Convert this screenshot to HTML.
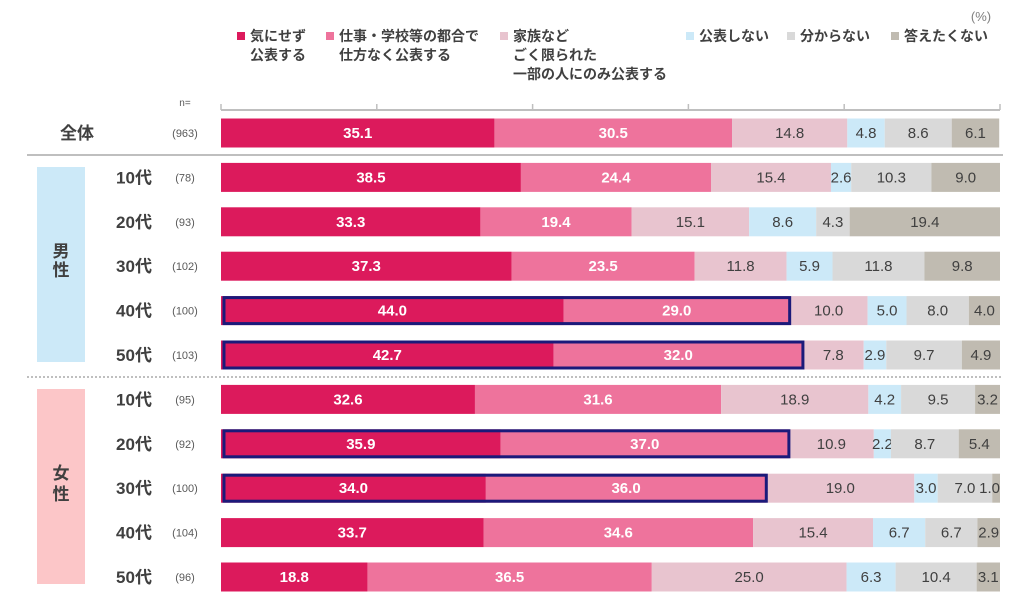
<!DOCTYPE html>
<html><head><meta charset="utf-8">
<style>
body{margin:0;background:#fff;}
svg{display:block;font-family:"Liberation Sans","Noto Sans CJK JP",sans-serif;}
</style></head>
<body>
<svg id="chart" width="1017" height="603" viewBox="0 0 1017 603">
</svg>
<script>
const categories = ["全体","10代","20代","30代","40代","50代","10代","20代","30代","40代","50代"];
const sampleSizes = ["(963)","(78)","(93)","(102)","(100)","(103)","(95)","(92)","(100)","(104)","(96)"];
const seriesNames = ["気にせず\n公表する","仕事・学校等の都合で\n仕方なく公表する","家族など\nごく限られた\n一部の人にのみ公表する","公表しない","分からない","答えたくない"];
const s1 = [35.1,38.5,33.3,37.3,44.0,42.7,32.6,35.9,34.0,33.7,18.8];
const s2 = [30.5,24.4,19.4,23.5,29.0,32.0,31.6,37.0,36.0,34.6,36.5];
const s3 = [14.8,15.4,15.1,11.8,10.0,7.8,18.9,10.9,19.0,15.4,25.0];
const s4 = [4.8,2.6,8.6,5.9,5.0,2.9,4.2,2.2,3.0,6.7,6.3];
const s5 = [8.6,10.3,4.3,11.8,8.0,9.7,9.5,8.7,7.0,6.7,10.4];
const s6 = [6.1,9.0,19.4,9.8,4.0,4.9,3.2,5.4,1.0,2.9,3.1];
const highlighted = [false,false,false,false,true,true,false,true,true,false,false];
const ticks = [0,20,40,60,80,100];

const colors = ["#dc1a5c","#ee739c","#e8c4cf","#cce9f8","#d9d9d9","#c0bbb1"];
const NS = "http://www.w3.org/2000/svg";
const svg = document.getElementById("chart");
const x0 = 221, x1 = 1000;
const xs = v => x0 + (x1 - x0) * v / 100;
const rowY = i => 133 + i * 44.4;
const barH = 29;
function el(tag, attrs, text){
  const e = document.createElementNS(NS, tag);
  for (const k in attrs) e.setAttribute(k, attrs[k]);
  if (text !== undefined) e.textContent = text;
  svg.appendChild(e);
  return e;
}
let g = el("rect",{x:37,y:167,width:48,height:195,fill:"#cce9f8"});


g = el("rect",{x:37,y:389,width:48,height:195,fill:"#fcc6c8"});


[["男",257],["性",276]].forEach(([t,y])=>{const e=el("text",{x:61,y:y,"text-anchor":"middle","font-size":17,"font-weight":"bold",fill:"#404040"},t);

});
[["女",479],["性",500]].forEach(([t,y])=>{const e=el("text",{x:61,y:y,"text-anchor":"middle","font-size":17,"font-weight":"bold",fill:"#404040"},t);

});
let sp = el("line",{x1:27,y1:155,x2:1003,y2:155,stroke:"#bfbfbf","stroke-width":2});


sp = el("line",{x1:27,y1:377,x2:1003,y2:377,stroke:"#bfbfbf","stroke-width":2,"stroke-dasharray":"2,2"});


let ax = el("line",{x1:x0,y1:110,x2:x1,y2:110,stroke:"#bfbfbf","stroke-width":2});


ticks.forEach(t=>{
  const e = el("line",{x1:xs(t),y1:104,x2:xs(t),y2:110,stroke:"#bfbfbf","stroke-width":1.5});
  
  
});
let n = el("text",{x:185,y:106,"text-anchor":"middle","font-size":10,fill:"#595959"},"n=");


let pct = el("text",{x:981,y:21,"text-anchor":"middle","font-size":13,fill:"#7f7f7f"},"(%)");


const legX = [237,326,500,686,787,891];
seriesNames.forEach((nm,k)=>{
  const r = el("rect",{x:legX[k],y:32,width:8,height:8,fill:colors[k]});
  
  
  nm.split("\n").forEach((ln,j)=>{
    const t = el("text",{x:legX[k]+13,y:41+j*19,"font-size":14,"font-weight":"bold",fill:"#404040"},ln);
    
    
  });
});
const series = [s1,s2,s3,s4,s5,s6];
categories.forEach((c,i)=>{
  const cy = rowY(i);
  const lbl = el("text",{x: i===0?77:134,y:cy+6,"text-anchor":"middle","font-size":17,"font-weight":"bold",fill:"#404040"},c);
  
  
  const ns = el("text",{x:185,y:cy+4,"text-anchor":"middle","font-size":11,fill:"#595959"},sampleSizes[i]);
  
  
  let cum = 0;
  series.forEach((s,k)=>{
    const v = s[i];
    const a = xs(cum), b = Math.min(xs(cum+v), x1);
    const r = el("rect",{x:a,y:cy-barH/2,width:Math.max(0,b-a),height:barH,fill:colors[k]});
    
    
    let tx = (a+b)/2, anchor = "middle";
    if (k === 5 && v < 2) { tx = x1; anchor = "end"; }
    const t = el("text",{x:tx,y:cy+5,"text-anchor":anchor,"font-size":15,"font-weight":k<2?"bold":"normal",fill:k<2?"#ffffff":"#404040"},v.toFixed(1));
    
    
    cum += v;
  });
  if (highlighted[i]){
    const h = el("rect",{x:xs(0)+3,y:cy-barH/2+1.5,width:xs(s1[i]+s2[i])-xs(0)-3,height:barH-3,fill:"none",stroke:"#1b1a7a","stroke-width":3});
    
    
  }
});
</script>
</body></html>
